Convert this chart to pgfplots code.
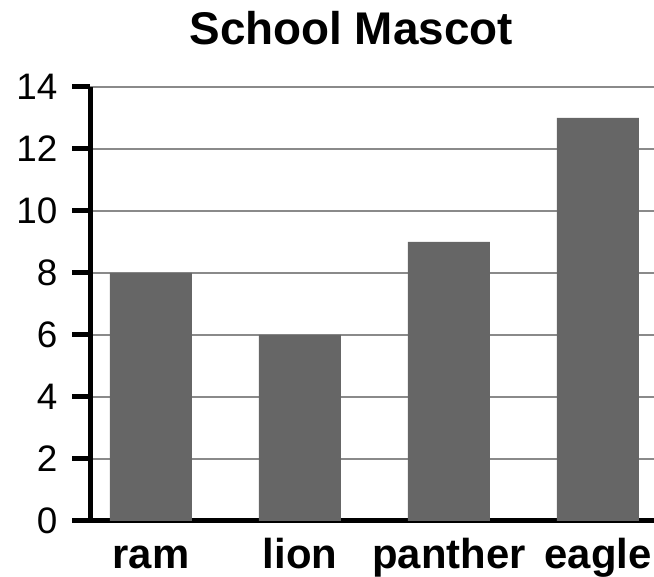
\documentclass[border=0pt]{standalone}
\usepackage{pgfplots}
\pgfplotsset{compat=1.18}
\usepackage{fontspec}
\setmainfont{Liberation Sans}
\definecolor{barfill}{HTML}{666666}
\definecolor{gridgray}{HTML}{8A8A8A}
\begin{document}
\begin{tikzpicture}[x=1bp,y=1bp]
\begin{axis}[
  at={(90bp,56bp)}, anchor=south west,
  scale only axis,
  width=564bp, height=434bp,
  xmin=-0.409, xmax=3.376,
  ymin=0, ymax=14,
  axis lines*=left,
  axis line style={line width=5bp, black},
  ytick={0,2,...,14},
  xtick={0,1,2,3},
  xticklabels={ram,lion,panther,eagle},
  ymajorgrids,
  major grid style={line width=1.5bp, gridgray},
  tick align=outside,
  major tick length=18bp,
  ytick style={line width=5bp, black},
  xtick style={draw=none},
  yticklabel style={font=\fontsize{37}{37}\selectfont, anchor=east, xshift=-11bp},
  xticklabel style={font=\fontsize{42}{42}\selectfont\bfseries, anchor=base, yshift=-29.5bp},
  /pgf/number format/assume math mode=true,
  title={School Mascot},
  title style={font=\fontsize{46}{46}\selectfont\bfseries, at={(rel axis cs:0.463,1.083)}, anchor=base},
  clip=false,
]
\addplot[ybar, bar width=82bp, fill=barfill, draw=none] coordinates {
  (0,8) (1,6) (2,9) (3,13)
};
\end{axis}
\pgfresetboundingbox
\path (0,0) rectangle (654,577);
\end{tikzpicture}
\end{document}
